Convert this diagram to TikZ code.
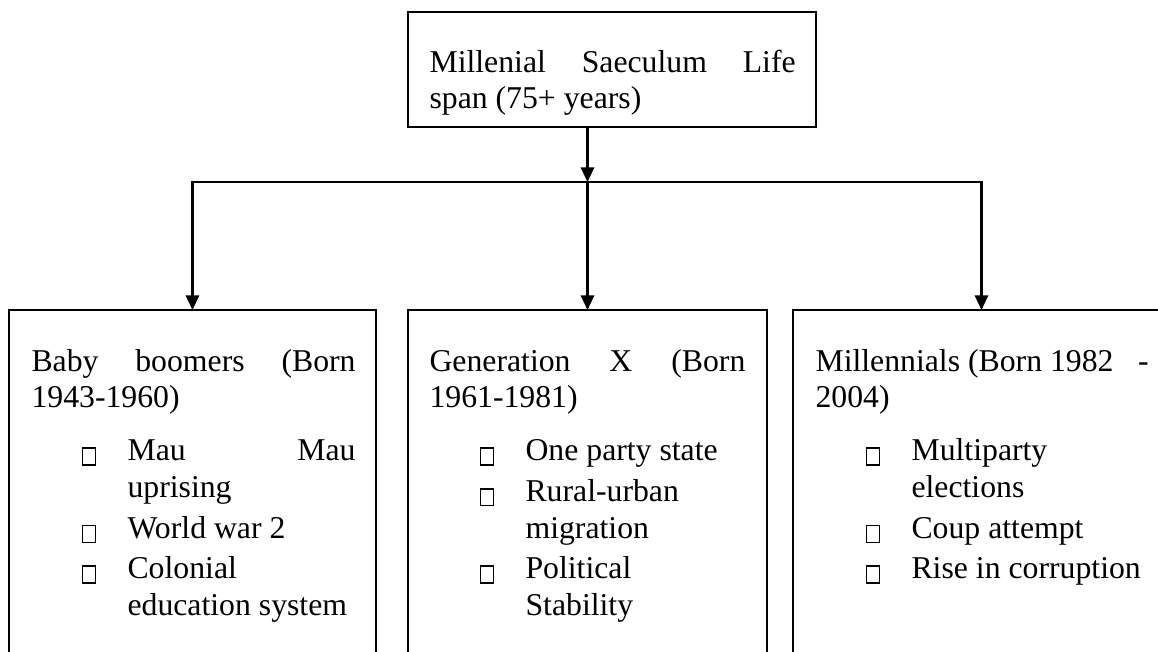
\documentclass[tikz,border=0pt]{standalone}
\usepackage{fontspec}
\setmainfont{Liberation Serif}
\usetikzlibrary{arrows.meta}

% casilla vacia que hace de vineta
\newcommand{\cajita}{\raisebox{-1.25pt}{\setlength{\fboxsep}{0pt}\setlength{\fboxrule}{0.55pt}\fbox{\rule{0pt}{5.8pt}\hspace{4.4pt}}}}
\newenvironment{sucesos}{\begin{list}{\cajita}{%
  \setlength{\leftmargin}{36.3pt}\setlength{\labelwidth}{5.5pt}%
  \setlength{\labelsep}{11.9pt}\setlength{\rightmargin}{0pt}%
  \setlength{\itemsep}{1.6pt}\setlength{\parsep}{0pt}%
  \setlength{\topsep}{6.4pt}\setlength{\partopsep}{0pt}}}{\end{list}}

\begin{document}
\begin{tikzpicture}[x=0.378pt,y=-0.378pt,
  caja/.style={draw,line width=0.6pt,inner sep=0pt,outer sep=0pt,anchor=north west},
  texto/.style={inner sep=0pt,anchor=base west,align=justify,
    font=\fontsize{12pt}{13.8pt}\selectfont},
  flecha/.style={line width=0.8pt,-{Triangle[width=5pt,length=5.5pt]}}]
  \useasboundingbox (0,0) rectangle (1158,652);
  \clip (0,0) rectangle (1158,652);

  % Caja superior
  \node[caja,minimum width=154.2pt,minimum height=43.5pt] (saeculum) at (408,12) {};
  \node[texto,text width=138.4pt] (tsaeculum) at (429,72)
    {Millenial Saeculum Life\linebreak span (75+ years)};

  % Generaciones
  \node[caja,minimum width=138.7pt,minimum height=136pt] (boomers) at (9,310) {};
  \node[texto,text width=122.5pt] (tboomers) at (31,371)
    {Baby boomers (Born\linebreak 1943-1960)
    \begin{sucesos}
      \item Mau Mau\linebreak uprising
      \item World war 2
      \item Colonial\newline education system
    \end{sucesos}};

  \node[caja,minimum width=135.7pt,minimum height=136pt] (genx) at (408,310) {};
  \node[texto,text width=119.4pt] (tgenx) at (429,371)
    {Generation X (Born\linebreak 1961-1981)
    \begin{sucesos}
      \item One party state
      \item Rural-urban\newline migration
      \item Political\newline Stability
    \end{sucesos}};

  \node[caja,minimum width=142.5pt,minimum height=136pt] (millennials) at (793,310) {};
  \node[texto,text width=125.9pt] (tmillennials) at (815,371)
    {Millennials (Born 1982\hfill -\newline 2004)
    \begin{sucesos}
      \item Multiparty\newline elections
      \item Coup attempt
      \item Rise in corruption
    \end{sucesos}};

  % Flechas
  \coordinate (barra) at (0,182);
  \coordinate (cruce) at (genx.north |- barra);
  \draw[flecha] (saeculum.south -| cruce) -- (cruce);
  \draw[flecha] (cruce) -| (boomers.north);
  \draw[flecha] (cruce) -- (genx.north);
  \draw[flecha] (cruce) -| (millennials.north);

\end{tikzpicture}
\end{document}
